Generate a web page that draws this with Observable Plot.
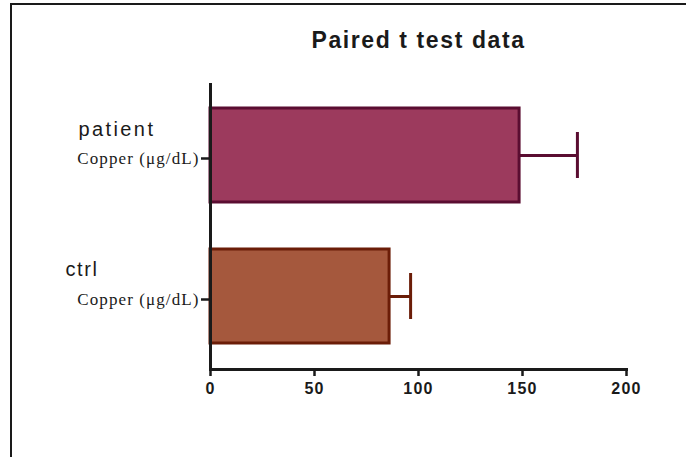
<!DOCTYPE html>
<html>
<head>
<meta charset="utf-8">
<script src="https://cdn.jsdelivr.net/npm/d3@7"></script>
<script src="https://cdn.jsdelivr.net/npm/@observablehq/plot@0.6"></script>
<style>
  html, body { margin: 0; padding: 0; background: #fff; overflow: hidden; }
  #wrap { position: relative; width: 686px; height: 457px; }
  #border { position: absolute; left: 10px; top: 3px; right: -10px; bottom: -10px;
            border-left: 2px solid #1a1a1a; border-top: 2px solid #1a1a1a; pointer-events: none; }
  .ttl text { letter-spacing: 1.6px; }
  .cat0 text { letter-spacing: 2.4px; }
  .cat1 text { letter-spacing: 1.6px; }
  g[aria-label="y-axis tick label"] text { letter-spacing: 1.1px; }
  g[aria-label="x-axis tick label"] text { letter-spacing: 1.2px; }
</style>
</head>
<body>
<div id="wrap"><div id="border"></div></div>
<script>
// ---- data ----
const categories = ["patient", "ctrl"];
const means = [148.6, 86.1];
const errors = [27.8, 10.1];
const subLabel = "Copper (μg/dL)";
const xTicks = [0, 50, 100, 150, 200];
const title = "Paired t test data";

const fills = ["#9c3a5d", "#a5583d"];
const strokes = ["#5a0d31", "#6b1d08"];

const rows = categories.map((c, i) => ({cat: c, mean: means[i], err: errors[i], hi: means[i] + errors[i]}));
const strokeOf = (d) => strokes[categories.indexOf(d.cat)];

const chart = Plot.plot({
  width: 686,
  height: 457,
  marginLeft: 210,
  marginRight: 60,
  marginTop: 83,
  marginBottom: 88,
  style: {background: "transparent", fontFamily: "Liberation Sans, Arial, sans-serif", color: "#1a1a1a"},
  x: {domain: [0, 200], axis: null},
  y: {type: "band", domain: categories, paddingInner: 0.33, paddingOuter: 0.175, axis: null},
  color: {domain: categories, range: fills},
  marks: [
    Plot.barX(rows, {x: "mean", y: "cat", fill: "cat", stroke: strokeOf, strokeWidth: 3}),
    Plot.ruleY(rows, {x1: "mean", x2: "hi", y: "cat", stroke: strokeOf, strokeWidth: 3}),
    Plot.tickX(rows, {x: "hi", y: "cat", stroke: strokeOf, strokeWidth: 3, insetTop: 24, insetBottom: 24}),
    Plot.ruleX([0], {stroke: "#1a1a1a", strokeWidth: 3}),
    Plot.frame({anchor: "bottom", stroke: "#1a1a1a", strokeWidth: 3}),
    Plot.axisX({ticks: xTicks, tickSize: 7, tickPadding: 6, tickFormat: d3.format("d"), fontSize: 16, fontWeight: "bold", stroke: "#1a1a1a", strokeWidth: 2.5, label: null}),
    Plot.axisY({tickSize: 9, tickPadding: 2, tickFormat: () => subLabel, fontSize: 17, fontFamily: "Liberation Serif, Times New Roman, serif", dy: 3, stroke: "#1a1a1a", strokeWidth: 2.5, label: null}),
    Plot.text(rows.filter((d) => d.cat === categories[0]), {x: () => 0, y: "cat", text: "cat", textAnchor: "start", dx: -132, dy: -26, fontSize: 20, fill: "#1a1a1a", className: "cat0"}),
    Plot.text(rows.filter((d) => d.cat === categories[1]), {x: () => 0, y: "cat", text: "cat", textAnchor: "start", dx: -145, dy: -27, fontSize: 20, fill: "#1a1a1a", className: "cat1"}),
    Plot.text([title], {frameAnchor: "top", text: (d) => d, dy: -52, fontSize: 23, fontWeight: "bold", fill: "#1a1a1a", className: "ttl"})
  ]
});
document.getElementById("wrap").appendChild(chart);
</script>
</body>
</html>
